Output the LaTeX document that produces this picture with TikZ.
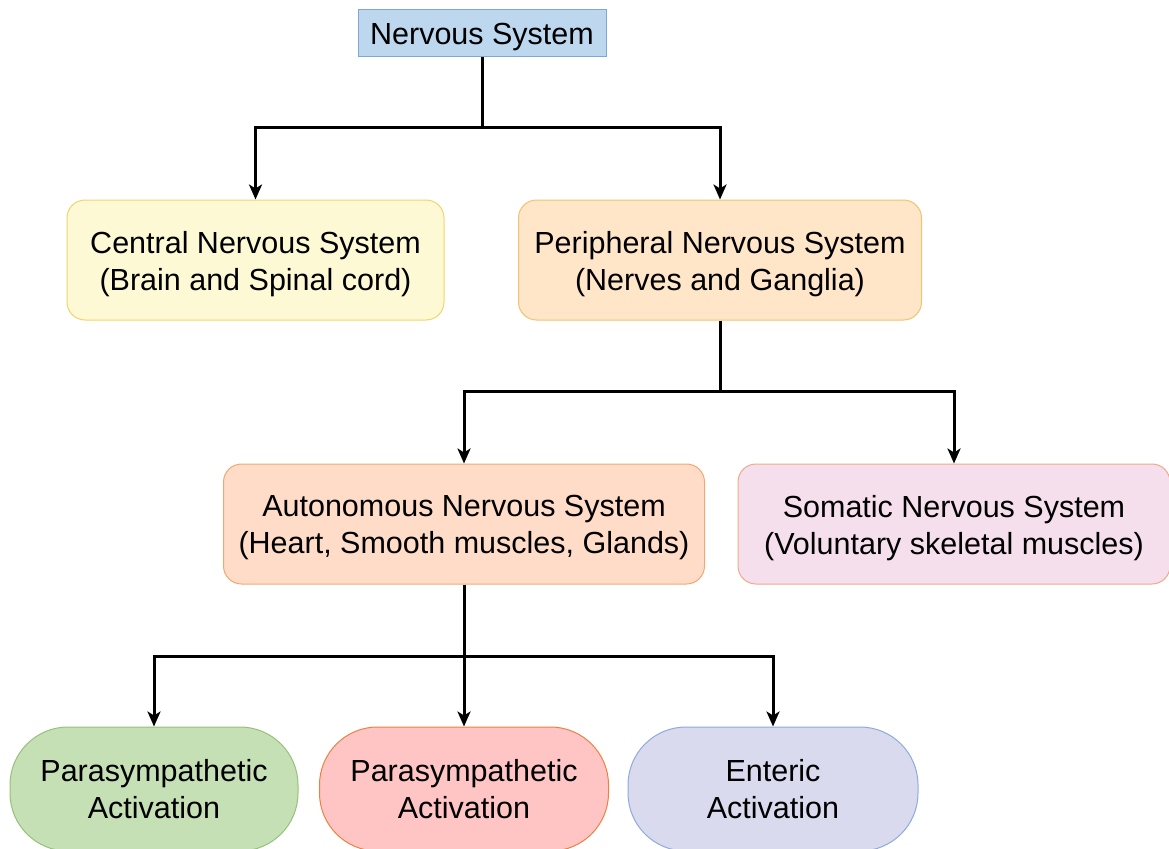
\documentclass[tikz,border=0pt]{standalone}
\usepackage{fontspec}
\setmainfont{Liberation Sans}
\usetikzlibrary{arrows.meta}
\definecolor{nsfill}{HTML}{BDD7EE}\definecolor{nsline}{HTML}{7EA6D8}
\definecolor{cnsfill}{HTML}{FEF9D5}\definecolor{cnsline}{HTML}{F2D46B}
\definecolor{pnsfill}{HTML}{FFE6C9}\definecolor{pnsline}{HTML}{F2C26E}
\definecolor{ansfill}{HTML}{FFDCC8}\definecolor{ansline}{HTML}{F2A872}
\definecolor{snsfill}{HTML}{F6DFEC}\definecolor{snsline}{HTML}{F0A88A}
\definecolor{gfill}{HTML}{C5E0B4}\definecolor{gline}{HTML}{97C07A}
\definecolor{rfill}{HTML}{FFC5C5}\definecolor{rline}{HTML}{EE8040}
\definecolor{efill}{HTML}{D9DAED}\definecolor{eline}{HTML}{8FAADC}
\tikzset{
  txt/.style={align=center, inner sep=0pt, font=\fontsize{30.5}{37}\selectfont},
  box/.style={inner sep=0pt, line width=1pt},
  % caption centred in its box, with a small vertical offset
  caption/.style={label={[txt, yshift=-4pt]center:#1}},
  pillcaption/.style={label={[txt, yshift=0pt]center:#1}},
  card/.style={box, rounded corners=18pt, minimum height=120pt},
  pill/.style={box, rounded corners=58pt, minimum height=124pt},
  arr/.style={line width=3pt, -{Stealth[length=15pt,width=13pt,inset=4pt]}},
  link/.style={line width=3pt}
}
\begin{document}
\begin{tikzpicture}[x=1pt,y=-1pt]
\useasboundingbox (0,0) rectangle (1169,848);
\node[box, fill=nsfill, draw=nsline, minimum width=248pt, minimum height=47pt, caption={Nervous System}] (ns) at (482,33.5) {};
\node[card, fill=cnsfill, draw=cnsline, minimum width=377pt, caption={Central Nervous System\\(Brain and Spinal cord)}] (cns) at (255.5,260) {};
\node[card, fill=pnsfill, draw=pnsline, minimum width=403pt, caption={Peripheral Nervous System\\(Nerves and Ganglia)}] (pns) at (720,260) {};
\node[card, fill=ansfill, draw=ansline, minimum width=481pt, caption={Autonomous Nervous System\\(Heart, Smooth muscles, Glands)}] (ans) at (464,524) {};
\node[card, fill=snsfill, draw=snsline, minimum width=432pt, caption={Somatic Nervous System\\(Voluntary skeletal muscles)}] (sns) at (954,524) {};
\node[pill, fill=gfill, draw=gline, minimum width=288pt, pillcaption={Parasympathetic\\Activation}] (psg) at (154,789) {};
\node[pill, fill=rfill, draw=rline, minimum width=289pt, pillcaption={Parasympathetic\\Activation}] (psr) at (464,789) {};
\node[pill, fill=efill, draw=eline, minimum width=290pt, pillcaption={Enteric\\Activation}] (ent) at (773,789) {};

\coordinate (j1) at ([yshift=-70pt]ns.south);
\coordinate (j2) at ([yshift=-71pt]pns.south);
\coordinate (j3) at ([yshift=-72pt]ans.south);

\draw[link] (ns.south) -- (j1);
\draw[arr] (j1) -| (cns.north);
\draw[arr] (j1) -| (pns.north);
\draw[link] (pns.south) -- (j2);
\draw[arr] (j2) -| (ans.north);
\draw[arr] (j2) -| (sns.north);
\draw[link] (ans.south) -- (j3);
\draw[arr] (j3) -| (psg.north);
\draw[arr] (j3) -- (psr.north);
\draw[arr] (j3) -| (ent.north);
\end{tikzpicture}
\end{document}
